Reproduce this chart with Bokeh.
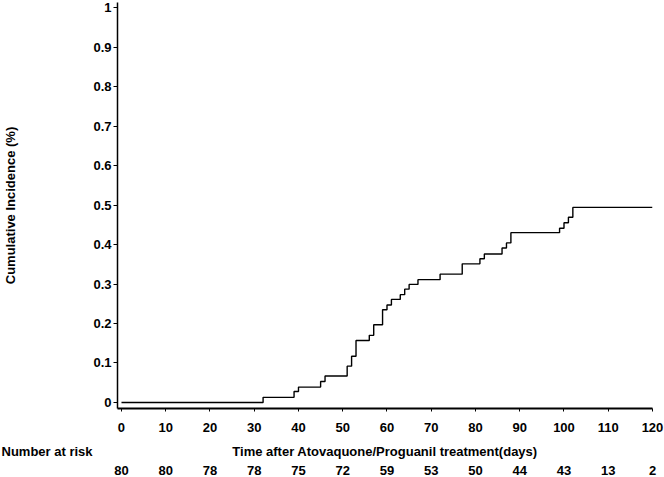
from bokeh.plotting import figure
from bokeh.models import LinearAxis, FixedTicker, CustomJSTickFormatter, Title, ColumnDataSource
from bokeh.embed import file_html
from bokeh.resources import INLINE

# Kaplan-Meier style cumulative incidence (step function)
days = [0, 32, 39, 40, 45, 46, 51, 52, 53, 56, 57, 59, 60, 61, 63, 64, 65, 67,
        72, 77, 81, 82, 86, 87, 88, 99, 100, 101, 102, 120]
incidence = [0, 0.013, 0.028, 0.039, 0.053, 0.067, 0.092, 0.117, 0.157, 0.170,
             0.197, 0.235, 0.247, 0.261, 0.273, 0.287, 0.299, 0.311, 0.325,
             0.351, 0.364, 0.376, 0.391, 0.404, 0.430, 0.441, 0.455, 0.469,
             0.494, 0.494]

x_ticks = [0, 10, 20, 30, 40, 50, 60, 70, 80, 90, 100, 110, 120]
y_ticks = [0, 0.1, 0.2, 0.3, 0.4, 0.5, 0.6, 0.7, 0.8, 0.9, 1]
at_risk = [80, 80, 78, 78, 75, 72, 59, 53, 50, 44, 43, 13, 2]

FONT = "Liberation Sans"
FS = "13px"

p = figure(width=664, height=477, x_range=(-0.9, 120), y_range=(-0.0152, 1.0127),
           output_backend="svg", toolbar_location=None,
           min_border_left=117, min_border_right=12, min_border_top=2,
           min_border_bottom=69)
p.outline_line_color = None
p.grid.visible = False
p.background_fill_color = "white"
p.border_fill_color = "white"

src = ColumnDataSource(dict(x=days, y=incidence))
p.step("x", "y", source=src, mode="after", line_color="black", line_width=1.4)

# x axis
xa = p.xaxis[0]
xa.ticker = FixedTicker(ticks=x_ticks)
xa.minor_tick_line_color = None
xa.major_tick_out = 3
xa.major_tick_in = 0
xa.axis_line_width = 2
xa.axis_line_color = "black"
xa.major_tick_line_color = "black"
xa.major_label_text_font = FONT
xa.major_label_text_font_style = "bold"
xa.major_label_text_font_size = FS
xa.major_label_text_color = "black"
xa.major_label_standoff = 11
xa.axis_label = "Time after Atovaquone/Proguanil treatment(days)"
xa.axis_label_text_font = FONT
xa.axis_label_text_font_style = "bold"
xa.axis_label_text_font_size = FS
xa.axis_label_text_color = "black"
xa.axis_label_standoff = 9

# y axis
ya = p.yaxis[0]
ya.ticker = FixedTicker(ticks=y_ticks)
ya.formatter = CustomJSTickFormatter(code="return String(tick)")
ya.minor_tick_line_color = None
ya.major_tick_out = 4
ya.major_tick_in = 0
ya.axis_line_width = 1.5
ya.axis_line_color = "black"
ya.major_tick_line_color = "black"
ya.major_label_text_font = FONT
ya.major_label_text_font_style = "bold"
ya.major_label_text_font_size = FS
ya.major_label_text_color = "black"
ya.major_label_standoff = 2
ya.axis_label = "Cumulative Incidence (%)"
ya.axis_label_text_font = FONT
ya.axis_label_text_font_style = "bold"
ya.axis_label_text_font_size = FS
ya.axis_label_text_color = "black"
ya.axis_label_standoff = 72

# "Number at risk" caption, in its own panel below the x axis
risk_title = Title(text="Number at risk", align="left", offset=-116,
                   standoff=-36, vertical_align="top",
                   text_font=FONT, text_font_style="bold",
                   text_font_size=FS, text_color="black")
p.add_layout(risk_title, "below")

# number at risk row as a label-only axis
risk_axis = LinearAxis(ticker=FixedTicker(ticks=x_ticks),
                       major_label_overrides={t: str(n) for t, n in zip(x_ticks, at_risk)})
risk_axis.axis_line_color = None
risk_axis.major_tick_line_color = None
risk_axis.minor_tick_line_color = None
risk_axis.major_tick_out = 0
risk_axis.major_tick_in = 0
risk_axis.major_label_standoff = 4
risk_axis.major_label_text_font = FONT
risk_axis.major_label_text_font_style = "bold"
risk_axis.major_label_text_font_size = FS
risk_axis.major_label_text_color = "black"
p.add_layout(risk_axis, "below")

open("out.html", "w").write(file_html(p, INLINE))
